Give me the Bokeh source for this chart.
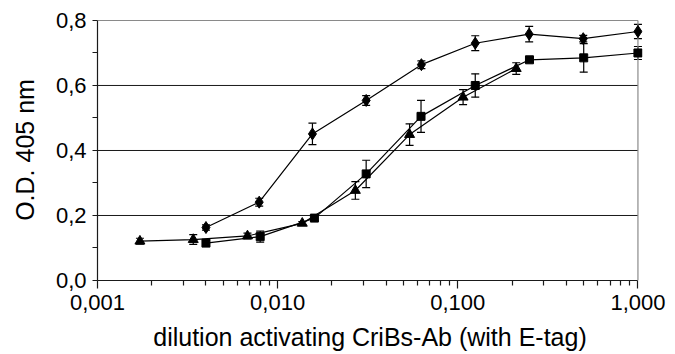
from bokeh.plotting import figure
from bokeh.models import (ColumnDataSource, Whisker, TeeHead, FixedTicker,
                          CustomJSTickFormatter, Range1d)
from bokeh.embed import file_html
from bokeh.resources import INLINE

# ---- data ----
diamond_x = [0.0040, 0.0079, 0.0156, 0.031, 0.0628, 0.125, 0.249, 0.497, 1.0]
diamond_y = [0.163, 0.241, 0.451, 0.554, 0.664, 0.730, 0.758, 0.744, 0.766]
diamond_err = [0.008, 0.012, 0.033, 0.015, 0.012, 0.023, 0.024, 0.010, 0.022]

square_x = [0.0040, 0.0080, 0.0160, 0.031, 0.0625, 0.125, 0.250, 0.500, 1.0]
square_y = [0.115, 0.135, 0.192, 0.328, 0.505, 0.600, 0.679, 0.685, 0.700]
square_err = [0.008, 0.017, 0.008, 0.042, 0.049, 0.036, 0.008, 0.044, 0.020]

triangle_x = [0.00172, 0.0034, 0.0068, 0.0137, 0.027, 0.054, 0.107, 0.211]
triangle_y = [0.121, 0.126, 0.137, 0.176, 0.277, 0.449, 0.564, 0.652]
triangle_err = [0.009, 0.015, 0.009, 0.005, 0.027, 0.033, 0.023, 0.018]

x_ticks = [0.001, 0.01, 0.1, 1.0]
x_tick_labels = ["0,001", "0,010", "0,100", "1,000"]
x_minor = [m * d for d in [0.001, 0.01, 0.1] for m in range(2, 10)]
y_ticks = [0.0, 0.2, 0.4, 0.6, 0.8]
y_tick_labels = ["0,0", "0,2", "0,4", "0,6", "0,8"]
y_minor = [0.1, 0.3, 0.5, 0.7]
grid_y = [0.2, 0.4, 0.6]

x_title = "dilution activating CriBs-Ab (with E-tag)"
y_title = "O.D. 405 nm"

FONT = "Liberation Sans"

p = figure(width=675, height=354, x_axis_type="log",
           x_range=Range1d(0.001, 1.06), y_range=Range1d(0.0, 0.803),
           output_backend="svg", toolbar_location=None,
           min_border_left=97, min_border_right=33,
           min_border_top=19, min_border_bottom=74)
p.outline_line_color = None
p.xgrid.visible = False
p.ygrid.visible = False
p.background_fill_color = "white"
p.border_fill_color = "white"

# grid lines and frame borders
p.segment(x0=[x_ticks[0]] * len(grid_y), x1=[x_ticks[-1]] * len(grid_y),
          y0=grid_y, y1=grid_y, line_color="#1a1a1a", line_width=1)
p.segment(x0=[x_ticks[0]], x1=[x_ticks[-1]], y0=[y_ticks[-1]], y1=[y_ticks[-1]],
          line_color="#8a8a8a", line_width=1.2)
p.segment(x0=[x_ticks[-1]], x1=[x_ticks[-1]], y0=[y_ticks[0]], y1=[y_ticks[-1]],
          line_color="#8a8a8a", line_width=1.2)


def fmt(tvals, tlabels):
    return CustomJSTickFormatter(args=dict(tv=tvals, tl=tlabels), code="""
        for (let i = 0; i < tv.length; i++) {
            if (Math.abs(tv[i] - tick) <= 1e-9 * Math.max(1e-3, Math.abs(tv[i]))) return tl[i];
        }
        return '';
    """)


xa = p.xaxis[0]
xa.ticker = FixedTicker(ticks=x_ticks, minor_ticks=x_minor)
xa.formatter = fmt(x_ticks, x_tick_labels)
xa.bounds = (x_ticks[0], x_ticks[-1])
xa.major_tick_out = 8
xa.major_tick_in = 0
xa.minor_tick_out = 5
xa.minor_tick_in = 0
xa.major_label_standoff = 6
xa.axis_label = x_title
xa.axis_label_standoff = 10

ya = p.yaxis[0]
ya.ticker = FixedTicker(ticks=y_ticks, minor_ticks=y_minor)
ya.formatter = fmt(y_ticks, y_tick_labels)
ya.bounds = (y_ticks[0], y_ticks[-1])
ya.major_tick_out = 5
ya.major_tick_in = 0
ya.minor_tick_out = 5
ya.minor_tick_in = 0
ya.major_label_standoff = 6
ya.axis_label = y_title
ya.axis_label_standoff = 14

for ax in (xa, ya):
    ax.axis_line_color = "#1a1a1a"
    ax.axis_line_width = 1.2
    ax.major_tick_line_color = "#1a1a1a"
    ax.major_tick_line_width = 1.2
    ax.minor_tick_line_color = "#1a1a1a"
    ax.minor_tick_line_width = 1.2
    ax.major_label_text_font = FONT
    ax.major_label_text_font_size = "22px"
    ax.major_label_text_color = "black"
    ax.axis_label_text_font = FONT
    ax.axis_label_text_font_size = "25px"
    ax.axis_label_text_font_style = "normal"
    ax.axis_label_text_color = "black"

series = [
    (diamond_x, diamond_y, diamond_err, "diamond", 12),
    (square_x, square_y, square_err, "square", 8),
    (triangle_x, triangle_y, triangle_err, "triangle", 10),
]

for xs, ys, es, marker, size in series:
    src = ColumnDataSource(dict(x=xs, y=ys,
                                upper=[a + b for a, b in zip(ys, es)],
                                lower=[a - b for a, b in zip(ys, es)]))
    p.line("x", "y", source=src, line_color="black", line_width=1.2)
    w = Whisker(base="x", upper="upper", lower="lower", source=src,
                line_color="black", line_width=1.2,
                upper_head=TeeHead(size=8, line_color="black", line_width=1.2),
                lower_head=TeeHead(size=8, line_color="black", line_width=1.2))
    p.add_layout(w)
    p.scatter("x", "y", source=src, marker=marker, size=size,
              fill_color="black", line_color="black")

open("out.html", "w").write(file_html(p, INLINE))
